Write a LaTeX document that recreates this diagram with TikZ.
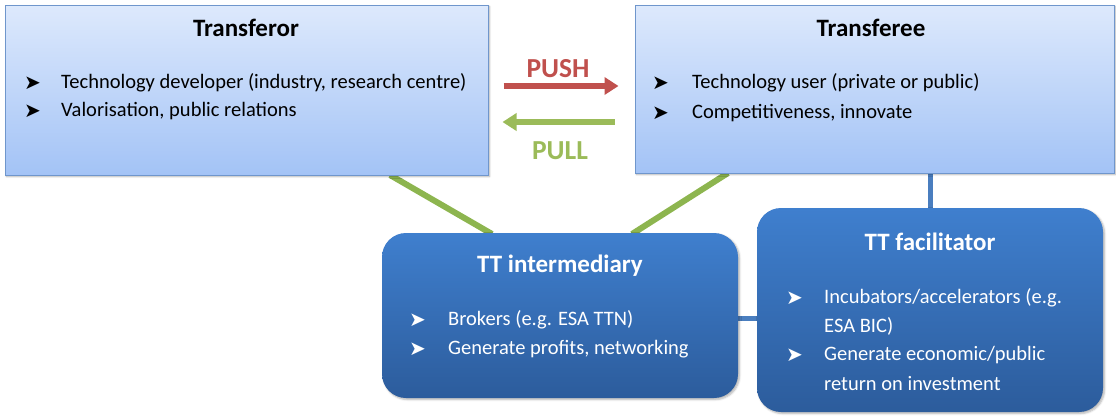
\documentclass[tikz,border=0pt]{standalone}
\usepackage{fontspec}
\setmainfont{Carlito}
\newfontfamily\symfont{DejaVu Sans}
\usetikzlibrary{arrows.meta,shadows.blur,calc}
\definecolor{lighttop}{HTML}{DDE9FC}
\definecolor{lightbot}{HTML}{A3C3F6}
\definecolor{lightedge}{HTML}{6F96CC}
\definecolor{darktop}{HTML}{3F7FCE}
\definecolor{darkbot}{HTML}{2C5C9C}
\definecolor{pushred}{HTML}{C0504D}
\definecolor{pullgreen}{HTML}{9BBB59}
\definecolor{linkgreen}{HTML}{8DB54F}
\definecolor{linkblue}{HTML}{4A7EBF}
\tikzset{
  lightbox/.style={draw=lightedge, line width=1pt, top color=lighttop, bottom color=lightbot,
    blur shadow={shadow blur steps=5, shadow xshift=1.5pt, shadow yshift=-1.5pt, shadow opacity=30}},
  darkbox/.style={rounded corners=24pt, top color=darktop, bottom color=darkbot,
    blur shadow={shadow blur steps=5, shadow xshift=1.5pt, shadow yshift=-1.5pt, shadow opacity=30}},
  boxtitle/.style={font=\fontsize{25}{28}\selectfont\bfseries, inner sep=0pt},
  item/.style={font=\fontsize{20.5}{23}\selectfont, anchor=west, inner sep=0pt},
  bul/.style={font=\fontsize{20}{22}\selectfont\symfont, anchor=west, inner sep=0pt},
  greenlink/.style={linkgreen, line width=6pt},
  bluelink/.style={linkblue, line width=5pt},
  flow/.style={line width=6pt, -{Triangle[length=14pt,width=17pt]}},
  flowlabel/.style={font=\fontsize{27.5}{30}\selectfont\bfseries, inner sep=0pt}
}
\begin{document}
\begin{tikzpicture}[x=1pt,y=-1pt]
\useasboundingbox (0,0) rectangle (1116,416);

% connectors sit behind the boxes
\coordinate (torfoot) at (390,175);
\coordinate (teefoot) at (728,173);
\coordinate (teestem) at (930,173);
\coordinate (midtopL) at (492,234);
\coordinate (midtopR) at (632,234);
\coordinate (midright) at (738,318);
\coordinate (factop) at (930,209);
\coordinate (facleft) at (758,318);
\draw[greenlink] (torfoot) -- (midtopL);
\draw[greenlink] (teefoot) -- (midtopR);
\draw[bluelink] (teestem) -- (factop);
\draw[bluelink] (midright) -- (facleft);

% the two parties
\node[lightbox, minimum width=483pt, minimum height=170pt, inner sep=0pt] (tor) at (246.5,90) {};
\node[lightbox, minimum width=479pt, minimum height=168pt, inner sep=0pt] (tee) at (874.5,89) {};

% the two TT organisations
\node[darkbox, minimum width=356pt, minimum height=165pt, inner sep=0pt] (mid) at (560,315.5) {};
\node[darkbox, minimum width=346pt, minimum height=204pt, inner sep=0pt] (fac) at (930,310) {};

% Transferor text
\node[boxtitle] (torT) at (246,28) {Transferor};
\node[bul] (torb1) at (24,83) {➤};
\node[item] (tori1) at (61,83) {Technology developer (industry, research centre)};
\node[bul] (torb2) at (24,111) {➤};
\node[item] (tori2) at (61,111) {Valorisation, public relations};

% Transferee text
\node[boxtitle] (teeT) at (871,28) {Transferee};
\node[bul] (teeb1) at (652,83) {➤};
\node[item] (teei1) at (692,83) {Technology user (private or public)};
\node[bul] (teeb2) at (652,113) {➤};
\node[item] (teei2) at (692,113) {Competitiveness, innovate};

% TT intermediary text
\begin{scope}[every node/.append style={text=white}]
\node[boxtitle] (midT) at (560,266) {TT intermediary};
\node[bul] (midb1) at (409,320) {➤};
\node[item] (midi1) at (448,320) {Brokers (e.g. ESA TTN)};
\node[bul] (midb2) at (409,349) {➤};
\node[item] (midi2) at (448,349) {Generate profits, networking};

% TT facilitator text
\node[boxtitle] (facT) at (930,242) {TT facilitator};
\node[bul] (facb1) at (786,298) {➤};
\node[item] (faci1) at (824,298) {Incubators/accelerators (e.g.};
\node[item] (faci1b) at (824,326) {ESA BIC)};
\node[bul] (facb2) at (786,355) {➤};
\node[item] (faci2) at (824,355) {Generate economic/public};
\node[item] (faci2b) at (824,384) {return on investment};
\end{scope}

% push and pull between the parties
\coordinate (pushS) at (tor.east |- 0,86);
\coordinate (pushE) at (tee.west |- 0,86);
\draw[flow, pushred] ([xshift=15pt]pushS) -- ([xshift=-16pt]pushE);
\node[flowlabel, text=pushred] (pushL) at (558,69) {PUSH};
\coordinate (pullS) at (tee.west |- 0,122);
\coordinate (pullE) at (tor.east |- 0,122);
\draw[flow, pullgreen] ([xshift=-20pt]pullS) -- ([xshift=14pt]pullE);
\node[flowlabel, text=pullgreen] (pullL) at (560,151) {PULL};
\end{tikzpicture}
\end{document}
